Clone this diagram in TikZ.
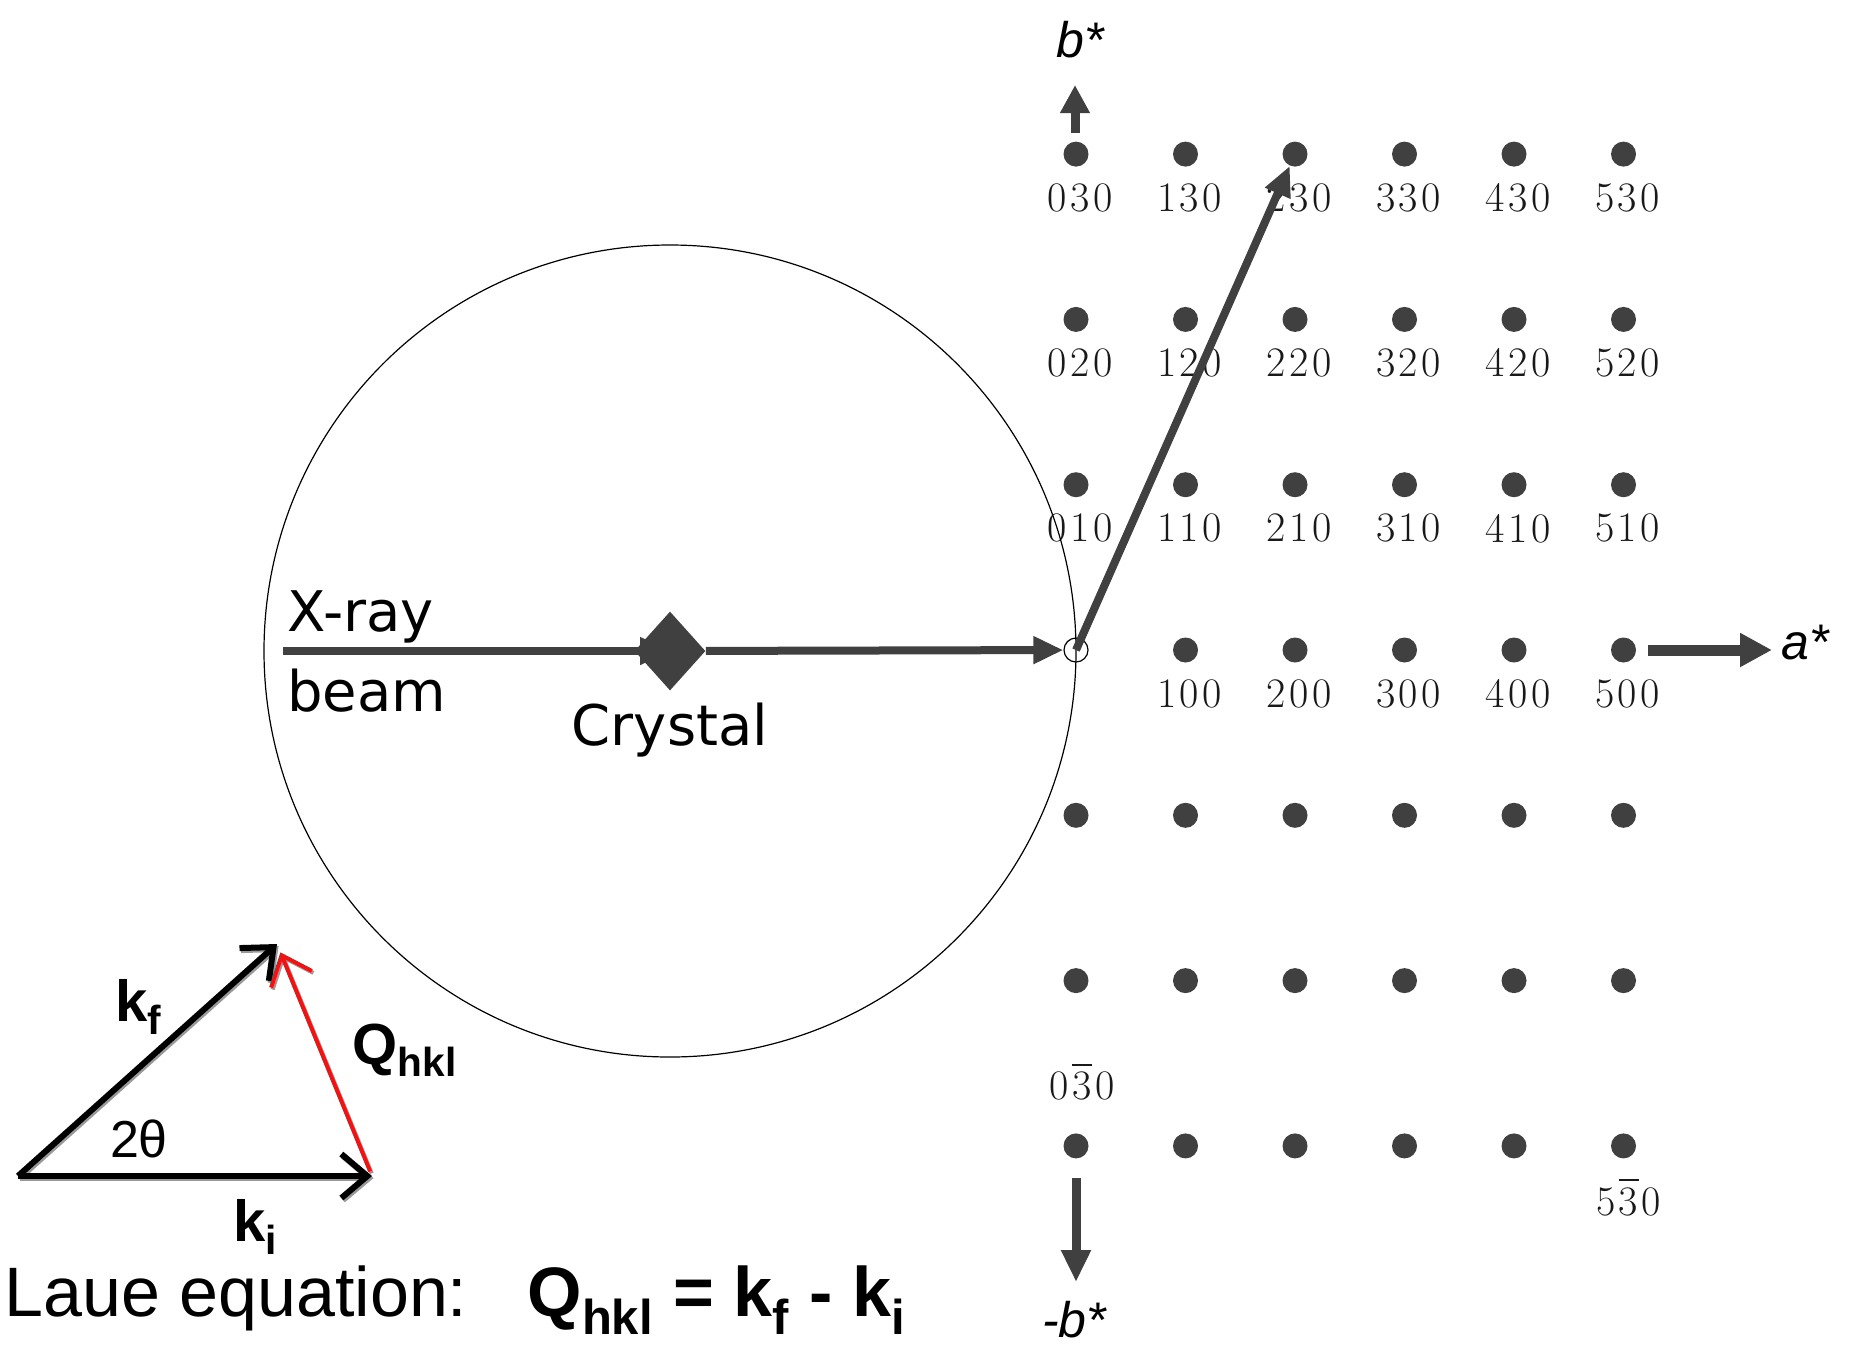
\documentclass[tikz,border=0pt]{standalone}
\usepackage{fontspec}
\usepackage{tikz}
\usetikzlibrary{arrows.meta,positioning,shapes.geometric}
\newfontfamily\arialfont{Liberation Sans}
\newfontfamily\beamfont{DejaVu Sans}
\definecolor{spotgray}{RGB}{64,64,64}
\definecolor{qred}{RGB}{238,20,20}
\newcommand{\hkl}[3]{#1\kern1.8pt#2\kern1.8pt#3}
\newcommand{\bnum}[1]{\rlap{\raisebox{17pt}{\rule{10pt}{0.9pt}}}#1}

\begin{document}
\begin{tikzpicture}[x=0.5pt,y=-0.5pt,
  spot/.style={circle,fill=spotgray,minimum size=12.5pt,inner sep=0pt},
  idx/.style={font=\fontsize{21}{23}\selectfont,inner sep=0pt,text=black!90},
  beam/.style={draw=spotgray,line width=4pt,-{Triangle[length=15pt,width=13pt]}},
  axis/.style={draw=spotgray,line width=4.5pt,-{Triangle[length=14pt,width=14pt]}},
  axlabel/.style={font=\arialfont\itshape\fontsize{25}{27}\selectfont,inner sep=0pt},
  txt/.style={font=\beamfont\fontsize{28}{30}\selectfont,inner sep=0pt},
  vec/.style={line width=3pt,-{Straight Barb[length=13pt,width=22pt]}},
  ghost/.style={draw=black!40,transform canvas={shift={(0.8pt,-1pt)}}},
  vlbl/.style={font=\arialfont\bfseries\fontsize{29}{31}\selectfont,inner sep=0pt}
]
\useasboundingbox (0,0) rectangle (1850,1345);

% reciprocal lattice
\foreach \j/\r in {3/3,2/2,1/1,0/0,-1/m1,-2/m2,-3/m3}{
  \foreach \i in {0,...,5}{
    \ifnum\numexpr\i*\i+\j*\j\relax>0
      \node[spot] (s\i\r) at ({1076+109.5*\i},{650-165.3*\j}) {};
    \fi
  }
}
\node[circle,draw,line width=0.6pt,minimum size=12pt,inner sep=0pt] (o) at (1076,650) {};
\foreach \j in {1,2,3}
  \foreach \i in {0,...,5}
    \node[idx,below=8pt of s\i\j,xshift=2pt] (l\i\j) {\hkl{\i}{\j}{0}};
\foreach \i in {1,...,5}
  \node[idx,below=8pt of s\i0,xshift=2pt] (l\i0) {\hkl{\i}{0}{0}};
\node[idx,above=16pt of s0m3,xshift=3pt] (l0m3) {\hkl{0}{\bnum{3}}{0}};
\node[idx,below=10pt of s5m3,xshift=2.5pt] (l5m3) {\hkl{5}{\bnum{3}}{0}};

% axes
\coordinate (bup0) at (1075,133);
\coordinate (bup1) at (1075,85);
\draw[axis] (bup0) -- (bup1);
\node[axlabel] (bstar) at (1080,40) {b*};
\coordinate (bdn0) at (1076,1178);
\coordinate (bdn1) at (1076,1282);
\draw[axis,-{Triangle[length=16pt,width=14pt]}] (bdn0) -- (bdn1);
\node[axlabel] (mbstar) at (1074,1320) {-b*};
\coordinate (ax0) at (1648,650);
\coordinate (ax1) at (1772,650);
\draw[axis,line width=5.5pt,-{Triangle[length=16pt,width=16pt]}] (ax0) -- (ax1);
\node[axlabel] (astar) at (1805,643) {a*};

% Ewald sphere and beams
\coordinate (src) at (283,651);
\coordinate (xc) at (670,651);
\draw[line width=0.6pt] (xc) circle[radius=203pt];
\draw[beam] (src) -- (xc);
\node[diamond,fill=spotgray,minimum width=35.5pt,minimum height=39.5pt,inner sep=0pt] (crystal) at (xc) {};
\draw[beam] (crystal) -- (o);
\draw[beam] (o.center) -- (s23);
\node[txt,anchor=north west] (xray) at (287,590) {X-ray};
\node[txt,anchor=north west] (beamlbl) at (287,669) {beam};
\node[txt,below=6pt of crystal] (crystlbl) {Crystal};

% scattering triangle
\coordinate (tO) at (18,1176);
\coordinate (tI) at (372,1176);
\coordinate (tF) at (277,944);
\draw[vec,ghost] (tO) -- (tI);
\draw[vec,ghost] (tO) -- (tF);
\draw[vec,ghost,line width=2pt,shorten <=2.5pt,shorten >=4.5pt] (tI) -- (tF);
\draw[vec] (tO) -- (tI);
\draw[vec] (tO) -- (tF);
\draw[vec,qred,line width=2pt,shorten <=2.5pt,shorten >=4.5pt] (tI) -- (tF);
\node[vlbl] (kf) at (139,1007) {k\textsubscript{f}};
\node[vlbl] (q) at (405,1050) {Q\textsubscript{hkl}};
\node[font=\arialfont\fontsize{26}{28}\selectfont,inner sep=0pt] (tth) at (139,1139) {2θ};
\node[vlbl] (ki) at (256,1227) {k\textsubscript{i}};
\node[font=\arialfont\fontsize{35}{37}\selectfont,inner sep=0pt,anchor=base west] (laue) at (4,1316)
  {Laue equation:\hspace{30pt}\textbf{Q\textsubscript{hkl} = k\textsubscript{f} - k\textsubscript{i}}};
\end{tikzpicture}
\end{document}
